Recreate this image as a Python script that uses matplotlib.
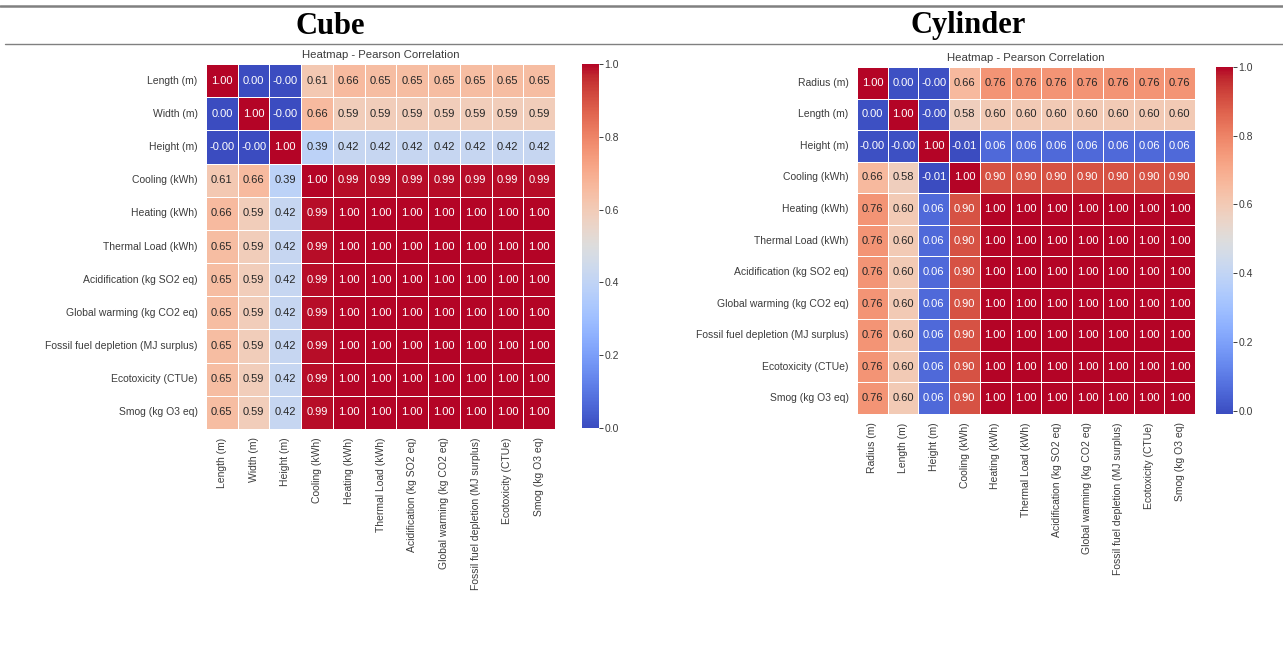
import numpy as np
import matplotlib
matplotlib.use("Agg")
import matplotlib.pyplot as plt
import seaborn as sns
from matplotlib.lines import Line2D

# Correlation matrices
cube_labels = ["Length (m)", "Width (m)", "Height (m)", "Cooling (kWh)",
               "Heating (kWh)", "Thermal Load (kWh)", "Acidification (kg SO2 eq)",
               "Global warming (kg CO2 eq)", "Fossil fuel depletion (MJ surplus)",
               "Ecotoxicity (CTUe)", "Smog (kg O3 eq)"]
cube_length = [1.00, 0.00, -0.0, 0.61, 0.66, 0.65, 0.65, 0.65, 0.65, 0.65, 0.65]
cube_width = [0.00, 1.00, -0.0, 0.66, 0.59, 0.59, 0.59, 0.59, 0.59, 0.59, 0.59]
cube_height = [-0.0, -0.0, 1.00, 0.39, 0.42, 0.42, 0.42, 0.42, 0.42, 0.42, 0.42]
cube_cooling = [0.61, 0.66, 0.39, 1.00, 0.99, 0.99, 0.99, 0.99, 0.99, 0.99, 0.99]
cube_output = [0.65, 0.59, 0.42, 0.99, 1.00, 1.00, 1.00, 1.00, 1.00, 1.00, 1.00]
cube_heating = [0.66, 0.59, 0.42, 0.99, 1.00, 1.00, 1.00, 1.00, 1.00, 1.00, 1.00]

cyl_labels = ["Radius (m)", "Length (m)", "Height (m)", "Cooling (kWh)",
              "Heating (kWh)", "Thermal Load (kWh)", "Acidification (kg SO2 eq)",
              "Global warming (kg CO2 eq)", "Fossil fuel depletion (MJ surplus)",
              "Ecotoxicity (CTUe)", "Smog (kg O3 eq)"]
cyl_radius = [1.00, 0.00, -0.0, 0.66, 0.76, 0.76, 0.76, 0.76, 0.76, 0.76, 0.76]
cyl_length = [0.00, 1.00, -0.0, 0.58, 0.60, 0.60, 0.60, 0.60, 0.60, 0.60, 0.60]
cyl_height = [-0.0, -0.0, 1.00, -0.01, 0.06, 0.06, 0.06, 0.06, 0.06, 0.06, 0.06]
cyl_cooling = [0.66, 0.58, -0.01, 1.00, 0.90, 0.90, 0.90, 0.90, 0.90, 0.90, 0.90]
cyl_output = [0.76, 0.60, 0.06, 0.90, 1.00, 1.00, 1.00, 1.00, 1.00, 1.00, 1.00]

cube = np.array([cube_length, cube_width, cube_height, cube_cooling, cube_heating]
                + [cube_output] * 6)
cyl = np.array([cyl_radius, cyl_length, cyl_height, cyl_cooling] + [cyl_output] * 7)

W, H = 1283, 651
TXT = "#3c3c3c"

sns.set_theme(style="white")
plt.rcParams["font.family"] = ["Liberation Sans", "DejaVu Sans"]

fig = plt.figure(figsize=(W / 100, H / 100), dpi=100)


def px_axes(x0, y0, x1, y1):
    # pixel box (top-left origin) -> figure axes
    return fig.add_axes([x0 / W, 1 - y1 / H, (x1 - x0) / W, (y1 - y0) / H])


def draw(data, labels, box, cbox, title_y):
    ax = px_axes(*box)
    cax = px_axes(*cbox)
    sns.heatmap(data, ax=ax, cbar_ax=cax, cmap="coolwarm", annot=True, fmt=".2f",
                linewidths=0.6, linecolor="white",
                annot_kws={"fontsize": 8},
                xticklabels=labels, yticklabels=labels)
    ax.tick_params(length=0, labelsize=7.5, labelcolor=TXT, pad=6)
    ax.set_xticklabels(labels, rotation=90)
    ax.set_yticklabels(labels, rotation=0)
    cx = (box[0] + box[2]) / 2 / W
    fig.text(cx, 1 - title_y / H, "Heatmap - Pearson Correlation", ha="center",
             va="center", fontsize=8.2, color=TXT)
    cax.tick_params(length=3, width=0.7, color=TXT, labelsize=7.5, labelcolor=TXT, pad=1)
    cax.yaxis.set_ticks([0, 0.2, 0.4, 0.6, 0.8, 1.0])
    for s in cax.spines.values():
        s.set_visible(False)


draw(cube, cube_labels, (206, 64, 555, 429), (582, 64, 599, 428), 55)
draw(cyl, cyl_labels, (857, 67, 1195, 414), (1216, 67, 1233, 414), 58)

# table-like frame with headers
fig.add_artist(Line2D([0, 1], [1 - 6 / H, 1 - 6 / H], color="#808080", lw=1.8))
fig.add_artist(Line2D([5 / W, 1], [1 - 43.5 / H, 1 - 43.5 / H], color="#808080", lw=1.0))
fig.text(330 / W, 1 - 26 / H, "Cube", ha="center", va="center", fontsize=22,
         fontweight="bold", family="Liberation Serif", color="black")
fig.text(968 / W, 1 - 26 / H, "Cylinder", ha="center", va="center", fontsize=22,
         fontweight="bold", family="Liberation Serif", color="black")

fig.savefig("out.png", dpi=100, facecolor="white")
